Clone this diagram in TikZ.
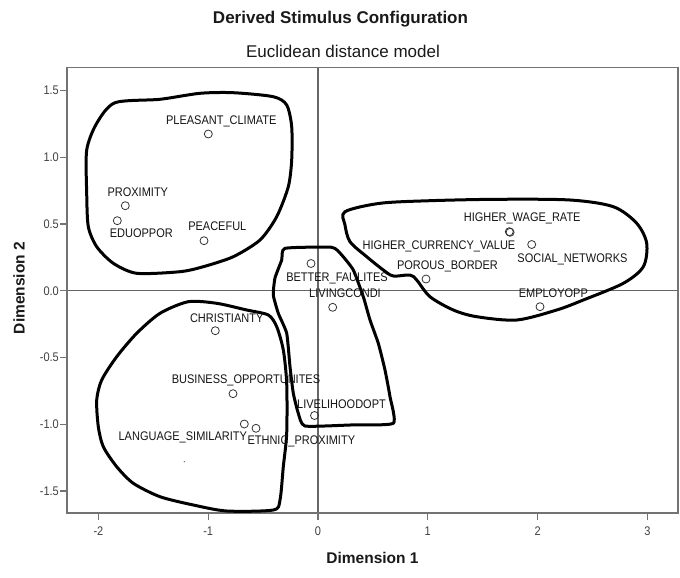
\documentclass[tikz,border=0pt]{standalone}
\usepackage{fontspec}
\setmainfont{Liberation Sans}
\newfontfamily\plotfont[FakeStretch=0.88]{Liberation Sans}
\begin{document}
\begin{tikzpicture}[x=1pt,y=-1pt,
  pt/.style={circle, draw=black!80, line width=0.8pt, minimum size=8pt, inner sep=0pt},
  lab/.style={font=\plotfont\fontsize{12.5}{14}\selectfont, text=black!92, inner sep=0pt, anchor=base},
  ticklab/.style={font=\plotfont\fontsize{12.5}{14}\selectfont, text=black!75, inner sep=0pt},
  blob/.style={draw=black, line width=3pt, line join=round},
  frame/.style={draw=black!55, line width=1.3pt},
  axisline/.style={draw=black!60, line width=1.2pt},
  ttl/.style={font=\fontsize{17}{20}\selectfont, text=black!90, inner sep=0pt, anchor=base}]

\useasboundingbox (0,0) rectangle (680,578);

% titles
\node[ttl, font=\fontsize{17}{20}\selectfont\bfseries] (title) at (340.5,24) {Derived Stimulus Configuration};
\node[ttl] (subtitle) at (343,58) {Euclidean distance model};

% axis lines through the origin
\draw[axisline] (318,67.5) -- (318,513);
\draw[axisline] (67,290.7) -- (678,290.7);

% frame
\draw[frame] (67,67.5) rectangle (678,513);

% x ticks
\foreach \v/\t in {-2/-2,-1/-1,0/0,1/1,2/2,3/3}{
  \draw[frame] ({318+109.8*\v},513) -- ({318+109.8*\v},520);
  \node[ticklab, anchor=base] at ({318+109.8*\v},535) {\t};
}
% y ticks
\foreach \v/\t in {1.5/1.5,1/1.0,0.5/0.5,0/0.0,-0.5/-0.5,-1/-1.0,-1.5/-1.5}{
  \draw[frame] (60,{290.7-133.5*\v}) -- (67,{290.7-133.5*\v});
  \node[ticklab, anchor=base east] at (59,{290.7-133.5*\v+4.3}) {\t};
}

% axis titles
\node[font=\fontsize{15.5}{18}\selectfont\bfseries, text=black!90, inner sep=0pt] (xt) at (372.5,558) {Dimension 1};
\node[font=\fontsize{15.5}{18}\selectfont\bfseries, text=black!90, inner sep=0pt, rotate=90] (yt) at (19,288) {Dimension 2};

% cluster outlines
\draw[blob] plot[smooth cycle, tension=0.45] coordinates {
  (115,102.7) (160,99.3) (200,93.3) (233.3,92.7) (273.3,96.7) (286.7,105)
  (291.7,126.7) (291.7,160) (288.3,186.7) (276.7,216.7) (260,240) (233.3,256.7)
  (203.3,266.7) (180,271.7) (136.7,273.3) (113.3,263.3) (96.7,246.7) (88.3,226.7)
  (86.7,193.3) (86.7,150) (96.7,123.3)};

\draw[blob] plot[smooth cycle, tension=0.5] coordinates {
  (345,211.7) (380,203.3) (430,200.7) (496.7,199.3) (570,200) (613.3,206.7)
  (636.7,223.3) (646.7,243.3) (643.3,266.7) (623.3,283.3) (583.3,300) (556.7,310)
  (516.7,320) (476.7,316.7) (453.3,310) (430,296.7) (416.7,280) (410,275)
  (393.3,276) (383.3,270) (366.7,256.7) (350,241.7) (345,225)};

\draw[blob] plot[smooth cycle, tension=0.3] coordinates {
  (285,248.3) (331.7,247.3) (341.7,255) (353.3,270) (363.3,296.7) (370,320)
  (378.3,343.3) (385,370) (390,396.7) (393.3,423.3) (350,425) (305,426)
  (298.3,413.3) (293.3,393.3) (290,366.7) (286.7,333.3) (278.3,313.3)
  (273.3,295) (275,278) (281.7,260)};

\draw[blob] plot[smooth cycle, tension=0.45] coordinates {
  (188.3,301.7) (216.7,303.3) (246.7,310) (268.3,315) (276.7,326.7) (283.3,350)
  (286.7,383.3) (286.7,433.3) (283.3,466.7) (280,500) (273.3,510) (226.7,511)
  (193.3,505) (160,496.7) (133.3,483.3) (116.7,466.7) (103.3,446.7) (98.3,426.7)
  (96.7,400) (101.7,380) (116.7,356.7) (136.7,333.3) (160,313.3)};

% stimulus points
\node[pt] (pleasant) at (208.3,134) {};
\node[pt] (proximity) at (125.3,205.7) {};
\node[pt] (eduoppor) at (117.3,220.7) {};
\node[pt] (peaceful) at (204,240.7) {};
\node[pt] (better) at (311,263.5) {};
\node[pt] (living) at (332.7,307.3) {};
\node[pt] (livelihood) at (314.5,415.5) {};
\node[pt] (wage) at (509.3,231.7) {};
\node[pt] (currency) at (510.1,232.3) {};
\node[pt] (social) at (531.7,244.5) {};
\node[pt] (porous) at (426,279) {};
\node[pt] (employ) at (540,306.7) {};
\node[pt] (christ) at (215.3,330.7) {};
\node[pt] (business) at (233,393.7) {};
\node[pt] (language) at (244.3,424) {};
\node[pt] (ethnic) at (256,428.3) {};
\fill[black!70] (184.3,461.7) circle (0.6pt);

% point labels
\node[lab] (lpleasant) at (221.3,124.8) {PLEASANT\_CLIMATE};
\node[lab] (lproximity) at (137.8,196.2) {PROXIMITY};
\node[lab] (leduoppor) at (141.3,237.2) {EDUOPPOR};
\node[lab] (lpeaceful) at (217.3,230.2) {PEACEFUL};
\node[lab] (lbetter) at (337,281.8) {BETTER\_FAULITES};
\node[lab] (lliving) at (345,297.8) {LIVINGCONDI};
\node[lab] (llivelihood) at (341.5,408.5) {LIVELIHOODOPT};
\node[lab] (lwage) at (522.2,221.8) {HIGHER\_WAGE\_RATE};
\node[lab] (lcurrency) at (439,249.5) {HIGHER\_CURRENCY\_VALUE};
\node[lab] (lsocial) at (572.5,262.2) {SOCIAL\_NETWORKS};
\node[lab] (lporous) at (447.5,269.5) {POROUS\_BORDER};
\node[lab] (lemploy) at (553.3,297.2) {EMPLOYOPP};
\node[lab] (lchrist) at (226.7,322.8) {CHRISTIANTY};
\node[lab] (lbusiness) at (246,383.5) {BUSINESS\_OPPORTUNITES};
\node[lab] (llanguage) at (182.8,440.5) {LANGUAGE\_SIMILARITY};
\node[lab] (lethnic) at (301.3,444.5) {ETHNIC\_PROXIMITY};

\end{tikzpicture}
\end{document}
